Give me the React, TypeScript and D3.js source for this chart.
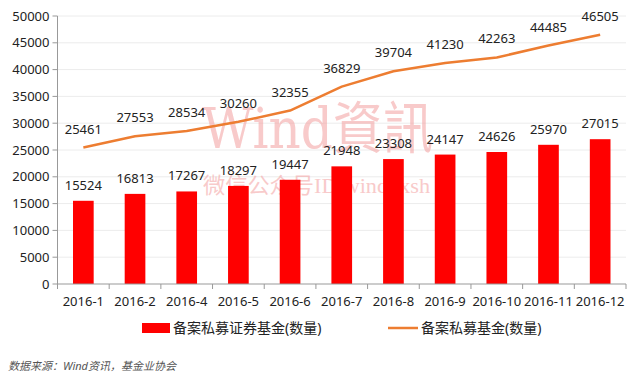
import React from "react";
import * as d3 from "d3";

const categories = ["2016-1", "2016-2", "2016-4", "2016-5", "2016-6", "2016-7", "2016-8", "2016-9", "2016-10", "2016-11", "2016-12"];
const barValues = [15524, 16813, 17267, 18297, 19447, 21948, 23308, 24147, 24626, 25970, 27015];
const lineValues = [25461, 27553, 28534, 30260, 32355, 36829, 39704, 41230, 42263, 44485, 46505];
const yTicks = [0, 5000, 10000, 15000, 20000, 25000, 30000, 35000, 40000, 45000, 50000];
const barName = "备案私募证券基金(数量)";
const lineName = "备案私募基金(数量)";
const source = "数据来源：Wind资讯，基金业协会";

export default function App() {
  const W = 640, H = 377;
  const left = 57.5, right = 626, top = 16, bottom = 284;
  const x = d3.scaleBand<string>().domain(categories).range([left, right]).paddingInner(0.6).paddingOuter(0.3);
  const xb = d3.scaleBand<string>().domain(categories).range([left, right]);
  const y = d3.scaleLinear().domain([0, 50000]).range([bottom, top]);
  const line = d3.line<number>().x((_, i) => (xb(categories[i]) as number) + xb.bandwidth() / 2).y((d) => y(d));
  const font = "'Noto Sans', 'Noto Sans CJK SC', sans-serif";
  return (
    <svg width={W} height={H} style={{ position: "absolute", left: 0, top: 0, background: "#fff" }} fontFamily={font}>
      <rect width={W} height={H} fill="#fff" />
      {yTicks.map((t) => (
        <g key={t}>
          {t > 0 && <line x1={left} x2={right} y1={y(t)} y2={y(t)} stroke="#ececec" strokeWidth={1} />}
          <line x1={left - 5} x2={left} y1={y(t)} y2={y(t)} stroke="#999" />
          <text x={left - 8} y={y(t)} dy="0.35em" textAnchor="end" fontSize={13} fill="#222">{t}</text>
        </g>
      ))}
      <text x={202} y={148} fontSize={56} textLength={231} lengthAdjust="spacingAndGlyphs" fontFamily="'DejaVu Serif', 'Noto Sans CJK SC', serif" fill="#f4a0a0" opacity={0.55}>Wind資訊</text>
      <text x={203} y={193} fontSize={22} textLength={227} lengthAdjust="spacingAndGlyphs" fontFamily="'Liberation Serif', 'Noto Sans CJK SC', serif" fill="#f4a0a0" opacity={0.55}>微信公众号ID:windxxsh</text>
      {categories.map((c, i) => (
        <g key={c}>
          <rect x={x(c)} y={y(barValues[i])} width={x.bandwidth()} height={bottom - y(barValues[i])} fill="#ff0000" />
          <text x={(x(c) as number) + x.bandwidth() / 2} y={y(barValues[i]) - 11} textAnchor="middle" fontSize={13} fill="#222">{barValues[i]}</text>
          <text x={(xb(c) as number) + xb.bandwidth() / 2} y={y(lineValues[i]) - 14} textAnchor="middle" fontSize={13} fill="#222">{lineValues[i]}</text>
        </g>
      ))}
      <path d={line(lineValues) as string} fill="none" stroke="#ED7D31" strokeWidth={2.5} strokeLinejoin="round" />
      <line x1={left} x2={left} y1={top} y2={bottom} stroke="#999" />
      <line x1={left} x2={right} y1={bottom} y2={bottom} stroke="#999" />
      {categories.concat(["end"]).map((c, i) => {
        const xx = left + i * xb.bandwidth();
        return <line key={c} x1={xx} x2={xx} y1={bottom} y2={bottom + 5} stroke="#999" />;
      })}
      {categories.map((c) => (
        <text key={c} x={(xb(c) as number) + xb.bandwidth() / 2} y={306} textAnchor="middle" fontSize={13} fill="#222">{c}</text>
      ))}
      <rect x={142} y={323} width={28} height={10} fill="#ff0000" />
      <text x={173} y={333} fontSize={14} fill="#222">{barName}</text>
      <line x1={388} x2={418} y1={328} y2={328} stroke="#ED7D31" strokeWidth={2.5} />
      <text x={421} y={333} fontSize={14} fill="#222">{lineName}</text>
      <text x={8} y={370} fontSize={11} fill="#555" fontStyle="italic">{source}</text>
    </svg>
  );
}
